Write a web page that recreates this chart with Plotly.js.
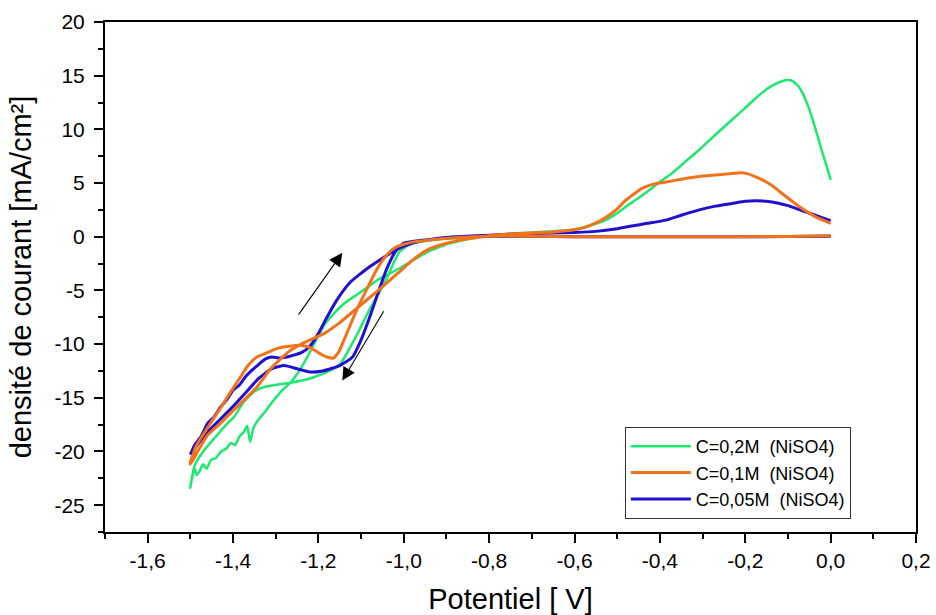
<!DOCTYPE html>
<html><head><meta charset="utf-8">
<script src="https://cdn.plot.ly/plotly-3.0.1.min.js"></script>
<style>html,body{margin:0;padding:0;background:#fff}#chart{width:936px;height:615px}</style>
</head><body><div id="chart"></div>
<script>
// Series names
const seriesNames = ["C=0,2M\u00a0 (NiSO4)", "C=0,1M\u00a0 (NiSO4)", "C=0,05M\u00a0 (NiSO4)"];

// C=0,2M — forward (cathodic) sweep
const greenFwdX = [0.0,-0.1,-0.2,-0.3,-0.4,-0.5,-0.6,-0.7,-0.8,-0.86,-0.92,-0.96,-0.99,-1.01,-1.021,-1.045,-1.078,-1.108,-1.13,-1.148,-1.17,-1.186,-1.22,-1.266,-1.3,-1.327,-1.35,-1.375,-1.398,-1.414,-1.44,-1.47,-1.49,-1.5];
const greenFwdY = [0.1,0.05,0.02,0.0,0.0,0.0,0.0,0.05,0.0,-0.1,-0.25,-0.45,-0.8,-1.4,-2.2,-4.3,-6.6,-9.0,-10.6,-11.8,-12.4,-12.7,-13.2,-13.6,-13.8,-14.0,-14.4,-15.4,-16.8,-17.4,-18.6,-20.0,-21.3,-23.3];
// C=0,2M — return (anodic) sweep
const greenRetX = [-1.5,-1.497,-1.49,-1.485,-1.478,-1.47,-1.462,-1.452,-1.44,-1.428,-1.415,-1.405,-1.395,-1.385,-1.375,-1.367,-1.36,-1.352,-1.34,-1.327,-1.312,-1.296,-1.282,-1.266,-1.245,-1.226,-1.205,-1.186,-1.16,-1.139,-1.11,-1.085,-1.06,-1.031,-1.0,-0.97,-0.944,-0.92,-0.9,-0.87,-0.84,-0.8,-0.75,-0.7,-0.65,-0.6,-0.56,-0.527,-0.5,-0.48,-0.45,-0.426,-0.4,-0.372,-0.34,-0.308,-0.27,-0.231,-0.2,-0.167,-0.14,-0.113,-0.1,-0.089,-0.075,-0.066,-0.055,-0.042,-0.03,-0.019,-0.008,0.0];
const greenRetY = [-23.4,-22.6,-21.6,-22.2,-21.8,-21.2,-21.6,-20.8,-20.6,-20.0,-19.7,-19.2,-19.4,-18.6,-18.2,-17.6,-19.1,-17.8,-17.0,-16.4,-15.6,-14.8,-14.2,-13.6,-12.5,-11.2,-9.6,-8.2,-7.0,-6.2,-5.4,-4.7,-4.0,-3.4,-2.7,-2.0,-1.4,-1.0,-0.7,-0.4,-0.15,0.1,0.3,0.4,0.5,0.7,1.1,1.55,2.2,2.8,3.6,4.3,5.1,5.9,7.0,8.1,9.5,10.9,12.0,13.2,14.0,14.5,14.6,14.5,14.0,13.4,12.4,10.9,9.3,7.8,6.4,5.3];

// C=0,1M
const orangeFwdX = [0.0,-0.1,-0.2,-0.3,-0.4,-0.5,-0.6,-0.7,-0.8,-0.88,-0.94,-0.98,-1.0,-1.02,-1.038,-1.055,-1.068,-1.088,-1.108,-1.125,-1.14,-1.152,-1.165,-1.18,-1.2,-1.22,-1.242,-1.27,-1.296,-1.32,-1.344,-1.365,-1.383,-1.405,-1.43,-1.46,-1.485,-1.5];
const orangeFwdY = [0.1,0.03,0.0,0.0,0.0,0.0,0.0,0.05,0.05,-0.1,-0.3,-0.5,-0.7,-1.0,-1.6,-2.5,-3.4,-5.0,-6.6,-8.2,-9.6,-10.7,-11.3,-11.2,-10.8,-10.3,-10.1,-10.2,-10.4,-10.8,-11.2,-12.0,-13.1,-14.4,-16.0,-17.8,-19.4,-21.0];
const orangeRetX = [-1.5,-1.48,-1.46,-1.43,-1.4,-1.374,-1.344,-1.31,-1.266,-1.23,-1.186,-1.15,-1.108,-1.06,-1.014,-0.98,-0.944,-0.9,-0.85,-0.8,-0.75,-0.7,-0.65,-0.6,-0.574,-0.55,-0.527,-0.5,-0.48,-0.46,-0.442,-0.415,-0.386,-0.35,-0.308,-0.27,-0.231,-0.21,-0.198,-0.18,-0.16,-0.135,-0.113,-0.09,-0.073,-0.05,-0.033,-0.015,0.0];
const orangeRetY = [-21.2,-19.8,-18.5,-17.4,-16.2,-15.2,-14.0,-12.2,-10.6,-9.8,-9.0,-8.0,-6.6,-5.0,-3.4,-2.2,-1.2,-0.6,-0.2,0.1,0.25,0.35,0.45,0.65,0.9,1.3,1.8,2.6,3.4,4.0,4.5,4.9,5.1,5.35,5.6,5.75,5.9,5.95,5.9,5.65,5.3,4.7,4.0,3.3,2.8,2.2,1.8,1.5,1.25];

// C=0,05M
const blueFwdX = [0.0,-0.1,-0.2,-0.3,-0.4,-0.5,-0.6,-0.7,-0.8,-0.88,-0.94,-0.98,-1.0,-1.02,-1.04,-1.06,-1.08,-1.1,-1.12,-1.15,-1.19,-1.22,-1.25,-1.28,-1.31,-1.34,-1.37,-1.4,-1.43,-1.46,-1.48,-1.5];
const blueFwdY = [0.05,0.02,0.0,0.0,0.0,0.0,0.0,0.05,0.05,-0.05,-0.25,-0.45,-0.6,-1.4,-3.0,-5.2,-7.5,-9.6,-11.2,-12.0,-12.5,-12.6,-12.3,-12.0,-12.3,-13.2,-14.5,-15.8,-17.0,-18.2,-19.2,-20.3];
const blueRetX = [-1.5,-1.49,-1.475,-1.46,-1.445,-1.43,-1.415,-1.4,-1.385,-1.37,-1.355,-1.34,-1.325,-1.31,-1.29,-1.265,-1.24,-1.22,-1.2,-1.18,-1.157,-1.127,-1.1,-1.08,-1.05,-1.026,-1.0,-0.97,-0.93,-0.88,-0.8,-0.7,-0.6,-0.55,-0.5,-0.466,-0.43,-0.386,-0.35,-0.308,-0.27,-0.231,-0.2,-0.175,-0.15,-0.125,-0.1,-0.075,-0.05,-0.025,0.0];
const blueRetY = [-20.3,-19.4,-18.6,-17.4,-16.8,-15.9,-15.2,-14.3,-13.8,-13.0,-12.4,-11.9,-11.4,-11.2,-11.3,-11.1,-10.8,-10.2,-9.0,-7.5,-5.9,-4.3,-3.4,-2.8,-2.0,-1.4,-0.9,-0.5,-0.2,0.0,0.15,0.3,0.4,0.5,0.75,1.0,1.25,1.55,2.0,2.5,2.85,3.1,3.3,3.35,3.3,3.15,2.9,2.55,2.2,1.85,1.5];

// Tick labels
const xTickVals = [-1.6,-1.4,-1.2,-1.0,-0.8,-0.6,-0.4,-0.2,0.0,0.2];
const xTickText = ["-1,6","-1,4","-1,2","-1,0","-0,8","-0,6","-0,4","-0,2","0,0","0,2"];
const yTickVals = [-25,-20,-15,-10,-5,0,5,10,15,20];
const yTickText = ["-25","-20","-15","-10","-5","0","5","10","15","20"];

const FONT = "Liberation Sans, Arial, sans-serif";

const traces = [
  {x: greenFwdX.concat(greenRetX), y: greenFwdY.concat(greenRetY), name: seriesNames[0], legendrank: 1,
   mode: "lines", line: {color: "#1ee870", width: 2.5, shape: "spline", smoothing: 0.5}},
  {x: blueFwdX.concat(blueRetX), y: blueFwdY.concat(blueRetY), name: seriesNames[2], legendrank: 3,
   mode: "lines", line: {color: "#2010d2", width: 3, shape: "spline", smoothing: 0.5}},
  {x: orangeFwdX.concat(orangeRetX), y: orangeFwdY.concat(orangeRetY), name: seriesNames[1], legendrank: 2,
   mode: "lines", line: {color: "#f2721a", width: 3, shape: "spline", smoothing: 0.5}}
];

const axisCommon = {
  ticks: "outside", ticklen: 9, tickwidth: 2, tickcolor: "#000",
  showline: true, linecolor: "#000", linewidth: 2, mirror: true,
  showgrid: false, zeroline: false, tickfont: {size: 21, family: FONT, color: "#000"}
};

const layout = {
  width: 936, height: 615,
  margin: {l: 105, r: 20, t: 22, b: 83},
  paper_bgcolor: "#fff", plot_bgcolor: "#fff",
  font: {family: FONT, color: "#000"},
  showlegend: true,
  legend: {x: 0.641, y: 0.206, xanchor: "left", yanchor: "top", bgcolor: "#fff",
           bordercolor: "#333", borderwidth: 1, font: {size: 18, family: FONT}, itemwidth: 60,
           entrywidthmode: "pixels", entrywidth: 250},
  xaxis: Object.assign({}, axisCommon, {
    range: [-1.7, 0.2], tickmode: "array", tickvals: xTickVals, ticktext: xTickText,
    title: {text: "Potentiel [ V]", font: {size: 29, family: FONT}, standoff: 17},
    minor: {tickmode: "linear", tick0: 0, dtick: 0.1, ticks: "outside", ticklen: 5, tickwidth: 2, tickcolor: "#000", showgrid: false}
  }),
  yaxis: Object.assign({}, axisCommon, {
    range: [-27.5, 20], tickmode: "array", tickvals: yTickVals, ticktext: yTickText,
    ticklabelstandoff: 5,
    title: {text: "densité de courant [mA/cm²]", font: {size: 29, family: FONT}, standoff: 14},
    minor: {tickmode: "linear", tick0: 0, dtick: 2.5, ticks: "outside", ticklen: 5, tickwidth: 2, tickcolor: "#000", showgrid: false}
  }),
  annotations: [
    {x: -1.144, y: -1.5, ax: -1.249, ay: -7.4, xref: "x", yref: "y", axref: "x", ayref: "y",
     showarrow: true, arrowhead: 2, arrowsize: 2.4, arrowwidth: 1.1, arrowcolor: "#000", text: ""},
    {x: -1.144, y: -13.4, ax: -1.045, ay: -6.8, xref: "x", yref: "y", axref: "x", ayref: "y",
     showarrow: true, arrowhead: 2, arrowsize: 2.4, arrowwidth: 1.1, arrowcolor: "#000", text: ""}
  ]
};

Plotly.newPlot("chart", traces, layout, {displayModeBar: false, staticPlot: true});
</script></body></html>
